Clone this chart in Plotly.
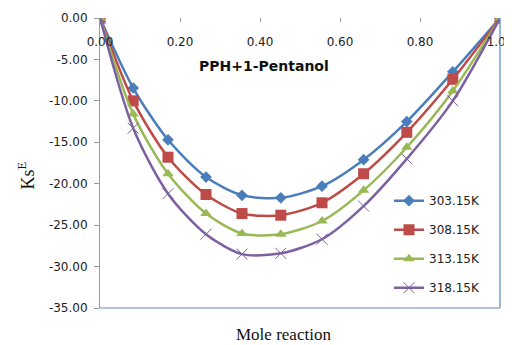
import plotly.graph_objects as go

mole_fraction = [0.0, 0.083, 0.170, 0.265, 0.355, 0.452, 0.555, 0.659, 0.767, 0.882, 1.0]
ks_303 = [0.0, -8.45, -14.7, -19.2, -21.4, -21.7, -20.3, -17.1, -12.5, -6.5, 0.0]
ks_308 = [0.0, -10.0, -16.8, -21.3, -23.6, -23.8, -22.3, -18.8, -13.8, -7.4, 0.0]
ks_313 = [0.0, -11.6, -18.8, -23.6, -26.0, -26.1, -24.5, -20.8, -15.6, -8.8, 0.0]
ks_318 = [0.0, -13.3, -21.2, -26.1, -28.5, -28.4, -26.7, -22.7, -17.0, -10.0, 0.0]

series_names = ["303.15K", "308.15K", "313.15K", "318.15K"]
x_tick_vals = [0.0, 0.2, 0.4, 0.6, 0.8, 1.0]
x_tick_text = ["0.00", "0.20", "0.40", "0.60", "0.80", "1.00"]
y_tick_vals = [0, -5, -10, -15, -20, -25, -30, -35]
y_tick_text = ["0.00", "-5.00", "-10.00", "-15.00", "-20.00", "-25.00", "-30.00", "-35.00"]

colors = ["#4A7EBB", "#BE4B48", "#98B954", "#7D60A0"]
symbols = ["diamond", "square", "triangle-up", "x-thin-open"]
sizes = [9, 11, 10, 11]

fig = go.Figure()
for i, (name, ys) in enumerate(zip(series_names, [ks_303, ks_308, ks_313, ks_318])):
    mk = dict(symbol=symbols[i], size=sizes[i], color=colors[i])
    if symbols[i] == "x-thin-open":
        mk["line"] = dict(color="#A996C4", width=1)
    fig.add_trace(go.Scatter(
        x=mole_fraction, y=ys, name=name, mode="lines+markers",
        line=dict(color=colors[i], width=2.5, shape="spline", smoothing=0.8),
        marker=mk, legendgroup=name,
    ))

tick_font = dict(family="DejaVu Sans", size=12, color="#222")

fig.update_layout(
    width=512, height=345,
    margin=dict(l=92, r=20, t=10, b=45, autoexpand=False),
    paper_bgcolor="white", plot_bgcolor="white",
    font=dict(family="DejaVu Sans", size=12, color="#222"),
    showlegend=True,
    legend=dict(x=0.7225, y=0.42, xanchor="left", yanchor="top",
                bgcolor="rgba(0,0,0,0)", tracegroupgap=10, font=tick_font),
    xaxis=dict(range=[0, 1], side="top", tickvals=x_tick_vals, ticktext=x_tick_text,
               ticks="inside", ticklen=4, tickcolor="#999", showline=False,
               showticklabels=False, showgrid=False, zeroline=False, automargin=False),
    xaxis2=dict(range=[0, 1], matches="x", overlaying="x", anchor="free", position=0.947,
                side="bottom", tickvals=x_tick_vals, ticktext=x_tick_text,
                ticks="", showline=False, showgrid=False, zeroline=False,
                automargin=False, tickfont=tick_font),
    yaxis=dict(range=[-35, 0], tickvals=y_tick_vals, ticktext=y_tick_text,
               ticks="outside", ticklen=5, tickcolor="#999", showline=True,
               linecolor="#999", linewidth=1, showgrid=False, zeroline=False,
               automargin=False, tickfont=tick_font, ticklabelstandoff=4),
)
# invisible trace so the label axis (xaxis2) is drawn
fig.add_trace(go.Scatter(x=[0, 1], y=[0, 0], xaxis="x2", mode="markers",
                         marker=dict(opacity=0), showlegend=False, hoverinfo="skip"))

fig.add_shape(type="line", xref="paper", yref="paper", x0=0, x1=1, y0=0, y1=0,
              line=dict(color="#5B86C0", width=1.2))
fig.add_shape(type="line", xref="paper", yref="paper", x0=1, x1=1, y0=0, y1=1,
              line=dict(color="#5B86C0", width=1.2))

fig.add_annotation(text="<b>PPH+1-Pentanol</b>", xref="paper", yref="paper",
                   x=0.41, y=0.87, showarrow=False,
                   font=dict(family="DejaVu Sans", size=14, color="#111"))
fig.add_annotation(text="Ks<sup>E</sup>", xref="paper", yref="paper",
                   x=-0.2175, xanchor="left", y=0.455, textangle=-90, showarrow=False,
                   font=dict(family="Liberation Serif", size=18, color="#111"))
fig.add_annotation(text="Mole reaction", xref="paper", yref="paper",
                   x=0.4575, y=-0.131, showarrow=False,
                   font=dict(family="Liberation Serif", size=17, color="#111"))

fig.write_html("out.html")
